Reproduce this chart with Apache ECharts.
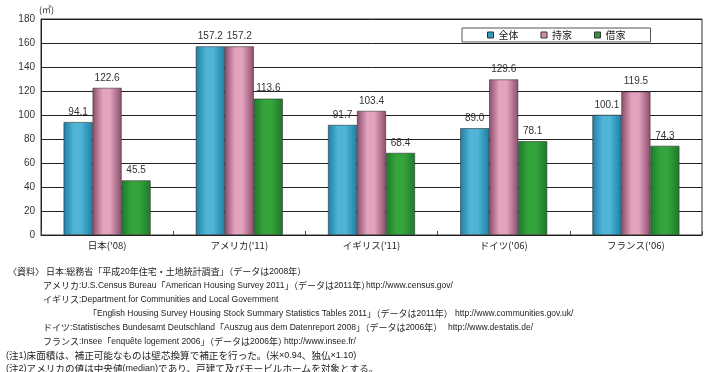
<!DOCTYPE html>
<html><head><meta charset="utf-8">
<script src="https://cdn.jsdelivr.net/npm/echarts@6/dist/echarts.min.js"></script>
<style>html,body{margin:0;padding:0;background:#fff}#c{width:711px;height:372px}</style>
</head><body><div id="c"></div>
<script>
const categories = ["日本('08)", "アメリカ('11)", "イギリス('11)", "ドイツ('06)", "フランス('06)"];
const seriesNames = ["全体", "持家", "借家"];
const total = [94.1, 157.2, 91.7, 89.0, 100.1];
const owned = [122.6, 157.2, 103.4, 129.6, 119.5];
const rented = [45.5, 113.6, 68.4, 78.1, 74.3];
const yTicks = [0, 20, 40, 60, 80, 100, 120, 140, 160, 180];

const FONT = '"Liberation Sans","Noto Sans CJK JP",sans-serif';
const JFONT = '"Noto Sans CJK JP",sans-serif';
const NFONT = '"Liberation Sans Narrow","Liberation Sans",sans-serif';

function grad(edge, mid) {
  return new echarts.graphic.LinearGradient(0, 0, 1, 0, [
    {offset: 0, color: edge}, {offset: 0.35, color: mid}, {offset: 0.6, color: mid}, {offset: 1, color: edge}
  ]);
}
const fills = [grad('#1d7fa6', '#4fb4d6'), grad('#8a4d6c', '#e3a3bd'), grad('#1d7a2a', '#35a43d')];
const solid = ['#2f9ac2', '#d58fae', '#2c9636'];
const values = [total, owned, rented];

const notes = [
  {x: 8, y: 270, t: '〈資料〉'},
  {x: 46, y: 270, t: '日本:総務省「平成20年住宅・土地統計調査」（データは2008年）'},
  {x: 43, y: 284, t: 'アメリカ:U.S.Census Bureau「American Housing Survey 2011」（データは2011年）'},
  {x: 366, y: 284, t: 'http://www.census.gov/'},
  {x: 43, y: 298, t: 'イギリス:Department for Communities and Local Government'},
  {x: 88, y: 312, t: '「English Housing Survey Housing Stock Summary Statistics Tables 2011」（データは2011年）'},
  {x: 455, y: 312, t: 'http://www.communities.gov.uk/'},
  {x: 43, y: 326, t: 'ドイツ:Statistisches Bundesamt Deutschland「Auszug aus dem Datenreport 2008」（データは2006年）'},
  {x: 448, y: 326, t: 'http://www.destatis.de/'},
  {x: 43, y: 340, t: 'フランス:Insee「enquête logement 2006」（データは2006年）'},
  {x: 284, y: 340, t: 'http://www.insee.fr/'},
  {x: 6, y: 354, t: '(注1)床面積は、補正可能なものは壁芯換算で補正を行った。(米×0.94、独仏×1.10)', big: true},
  {x: 6, y: 367, t: '(注2)アメリカの値は中央値(median)であり、戸建て及びモービルホームを対象とする。', big: true}
];

function toRich(s) {
  const parts = s.split(/([\x20-\x7E\u00C0-\u00FF]+)/).filter(p => p.length);
  return parts.map(p => /^[\x20-\x7E\u00C0-\u00FF]+$/.test(p) ? '{l|' + p + '}' : '{j|' + p + '}').join('');
}

const chart = echarts.init(document.getElementById('c'), null, {renderer: 'canvas'});
chart.setOption({
  animation: false,
  backgroundColor: '#fff',
  grid: {left: 41, right: 9, top: 19, bottom: 137, show: true, borderColor: '#333', borderWidth: 1},
  legend: {
    data: seriesNames.map((n, i) => ({name: n, itemStyle: {color: solid[i], borderColor: '#333', borderWidth: 1}})),
    left: 462, top: 28, itemWidth: 6, itemHeight: 6, itemGap: 22,
    padding: [2, 25, 2, 25], borderColor: '#555', borderWidth: 1, backgroundColor: '#fff',
    textStyle: {fontFamily: JFONT, fontSize: 10, color: '#222'}, icon: 'rect'
  },
  xAxis: {
    type: 'category', data: categories,
    axisLine: {lineStyle: {color: '#222', width: 1}},
    axisTick: {show: true, inside: true, length: 4, lineStyle: {color: '#444'}},
    axisLabel: {fontFamily: JFONT, fontSize: 9.5, color: '#222', margin: 6}
  },
  yAxis: {
    type: 'value', min: 0, max: 180, interval: 20,
    axisLine: {show: true, lineStyle: {color: '#222'}},
    axisTick: {show: false},
    splitLine: {lineStyle: {color: '#222', width: 1}},
    axisLabel: {fontFamily: FONT, fontSize: 10, color: '#333', margin: 6,
      formatter: v => yTicks.includes(v) ? String(v) : ''}
  },
  series: values.map((vals, i) => ({
    name: seriesNames[i], type: 'bar', data: vals, barWidth: 29, barGap: '0%',
    itemStyle: {color: fills[i], borderColor: '#333', borderWidth: 0.6},
    label: {show: true, position: 'top', distance: 5, fontFamily: FONT, fontSize: 10, color: '#333',
      formatter: p => p.value.toFixed(1)}
  })),
  graphic: [
    {type: 'text', left: 39, top: 5, style: {text: '(㎡)', fontFamily: JFONT, fontSize: 9, fill: '#333'}}
  ].concat(notes.map(n => ({
    type: 'text', x: n.x, y: n.y,
    style: {text: toRich(n.t), textVerticalAlign: 'middle', fill: '#222',
      rich: {
        j: {fontFamily: JFONT, fontSize: n.big ? 9.6 : 9, fill: '#222', lineHeight: 12, verticalAlign: 'bottom'},
        l: {fontFamily: NFONT, fontSize: n.big ? 9 : 8.5, fill: '#222', lineHeight: 12, verticalAlign: 'bottom'}
      }}
  })))
});
</script></body></html>
